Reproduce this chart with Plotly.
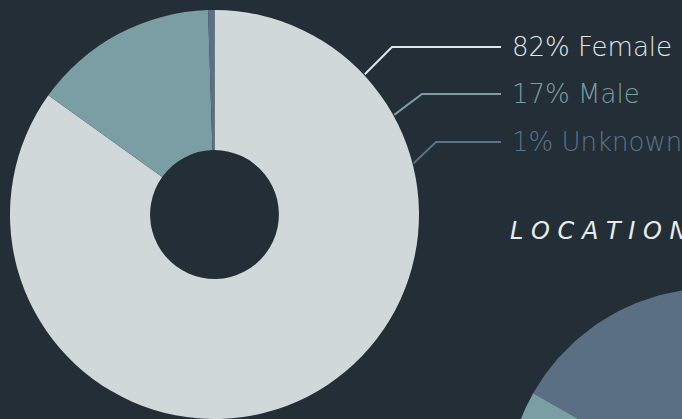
import numpy as np
import plotly.graph_objects as go

# ---- data ----
gender_labels = ["Female", "Male", "Unknown"]
gender_pct_text = [82, 17, 1]            # percentages printed in the legend labels
gender_slices = [84.9, 14.6, 0.5]        # slice sizes as drawn
gender_colors = ["#d0d8da", "#7a9ea3", "#5b7084"]
label_colors = ["#e2e6e7", "#7a9ea3", "#587488"]

location_labels = ["Region A", "Region B", "Region C"]
location_slices = [55, 25, 20]
location_colors = ["#5a6f84", "#d0d8da", "#7a9ea3"]

BG = "#232e37"
W, H = 682, 419

fig = go.Figure()

# main donut
cx, cy, R = 214.5, 214.5, 204.5
fig.add_trace(go.Pie(
    labels=gender_labels, values=gender_slices, sort=False, direction="clockwise",
    rotation=0, hole=0.315, textinfo="none", hoverinfo="label+percent",
    marker=dict(colors=gender_colors, line=dict(width=0)), showlegend=False,
    domain=dict(x=[(cx - R) / W, (cx + R) / W], y=[(H - cy - R) / H, (H - cy + R) / H]),
))

# second donut, partly outside the view (drawn on pixel axes)
c2x, c2y, R2, hole2 = 714, 496, 208, 0.315
start = -60.4
vals = np.array(location_slices, dtype=float)
fracs = vals / vals.sum()
a0 = start
for lab, f, col in zip(location_labels, fracs, location_colors):
    a1 = a0 + f * 360
    t = np.radians(np.linspace(a0, a1, 120))
    xo = c2x + R2 * np.sin(t)
    yo = c2y - R2 * np.cos(t)
    xi = c2x + R2 * hole2 * np.sin(t[::-1])
    yi = c2y - R2 * hole2 * np.cos(t[::-1])
    fig.add_trace(go.Scatter(
        x=np.concatenate([xo, xi, xo[:1]]), y=np.concatenate([yo, yi, yo[:1]]),
        fill="toself", fillcolor=col, line=dict(width=0), mode="lines",
        name=lab, showlegend=False, hoverinfo="name",
    ))
    a0 = a1

# leader lines and labels
line_angles = [47, 61, 75.6]
label_y = [47, 94, 142]
elbow_x = [392, 422, 436]
text_x = 510
for ang, ly, ex, col, lab, pct in zip(line_angles, label_y, elbow_x, label_colors,
                                      gender_labels, gender_pct_text):
    sx = cx + (R + 1) * np.sin(np.radians(ang))
    sy = cy - (R + 1) * np.cos(np.radians(ang))
    fig.add_shape(type="path", xref="x", yref="y",
                  path=f"M {sx:.1f} {sy:.1f} L {ex} {ly} L 501 {ly}",
                  line=dict(color=col, width=2))
    fig.add_annotation(x=text_x, y=ly, xref="x", yref="y", text=f"{pct}% {lab}",
                       showarrow=False, xanchor="left", yanchor="middle",
                       font=dict(family="DejaVu Sans", size=26, color=col, weight=300))

fig.add_annotation(x=508, y=231, xref="x", yref="y", text="L O C A T I O N",
                   showarrow=False, xanchor="left", yanchor="middle",
                   font=dict(family="DejaVu Sans", size=24, color="#e8ecec", style="italic",
                             weight=300))

fig.update_layout(
    width=W, height=H, margin=dict(l=0, r=0, t=0, b=0),
    paper_bgcolor=BG, plot_bgcolor=BG,
    xaxis=dict(range=[0, W], visible=False, fixedrange=True),
    yaxis=dict(range=[H, 0], visible=False, fixedrange=True),
)

fig.write_html("out.html", config={"displayModeBar": False})
